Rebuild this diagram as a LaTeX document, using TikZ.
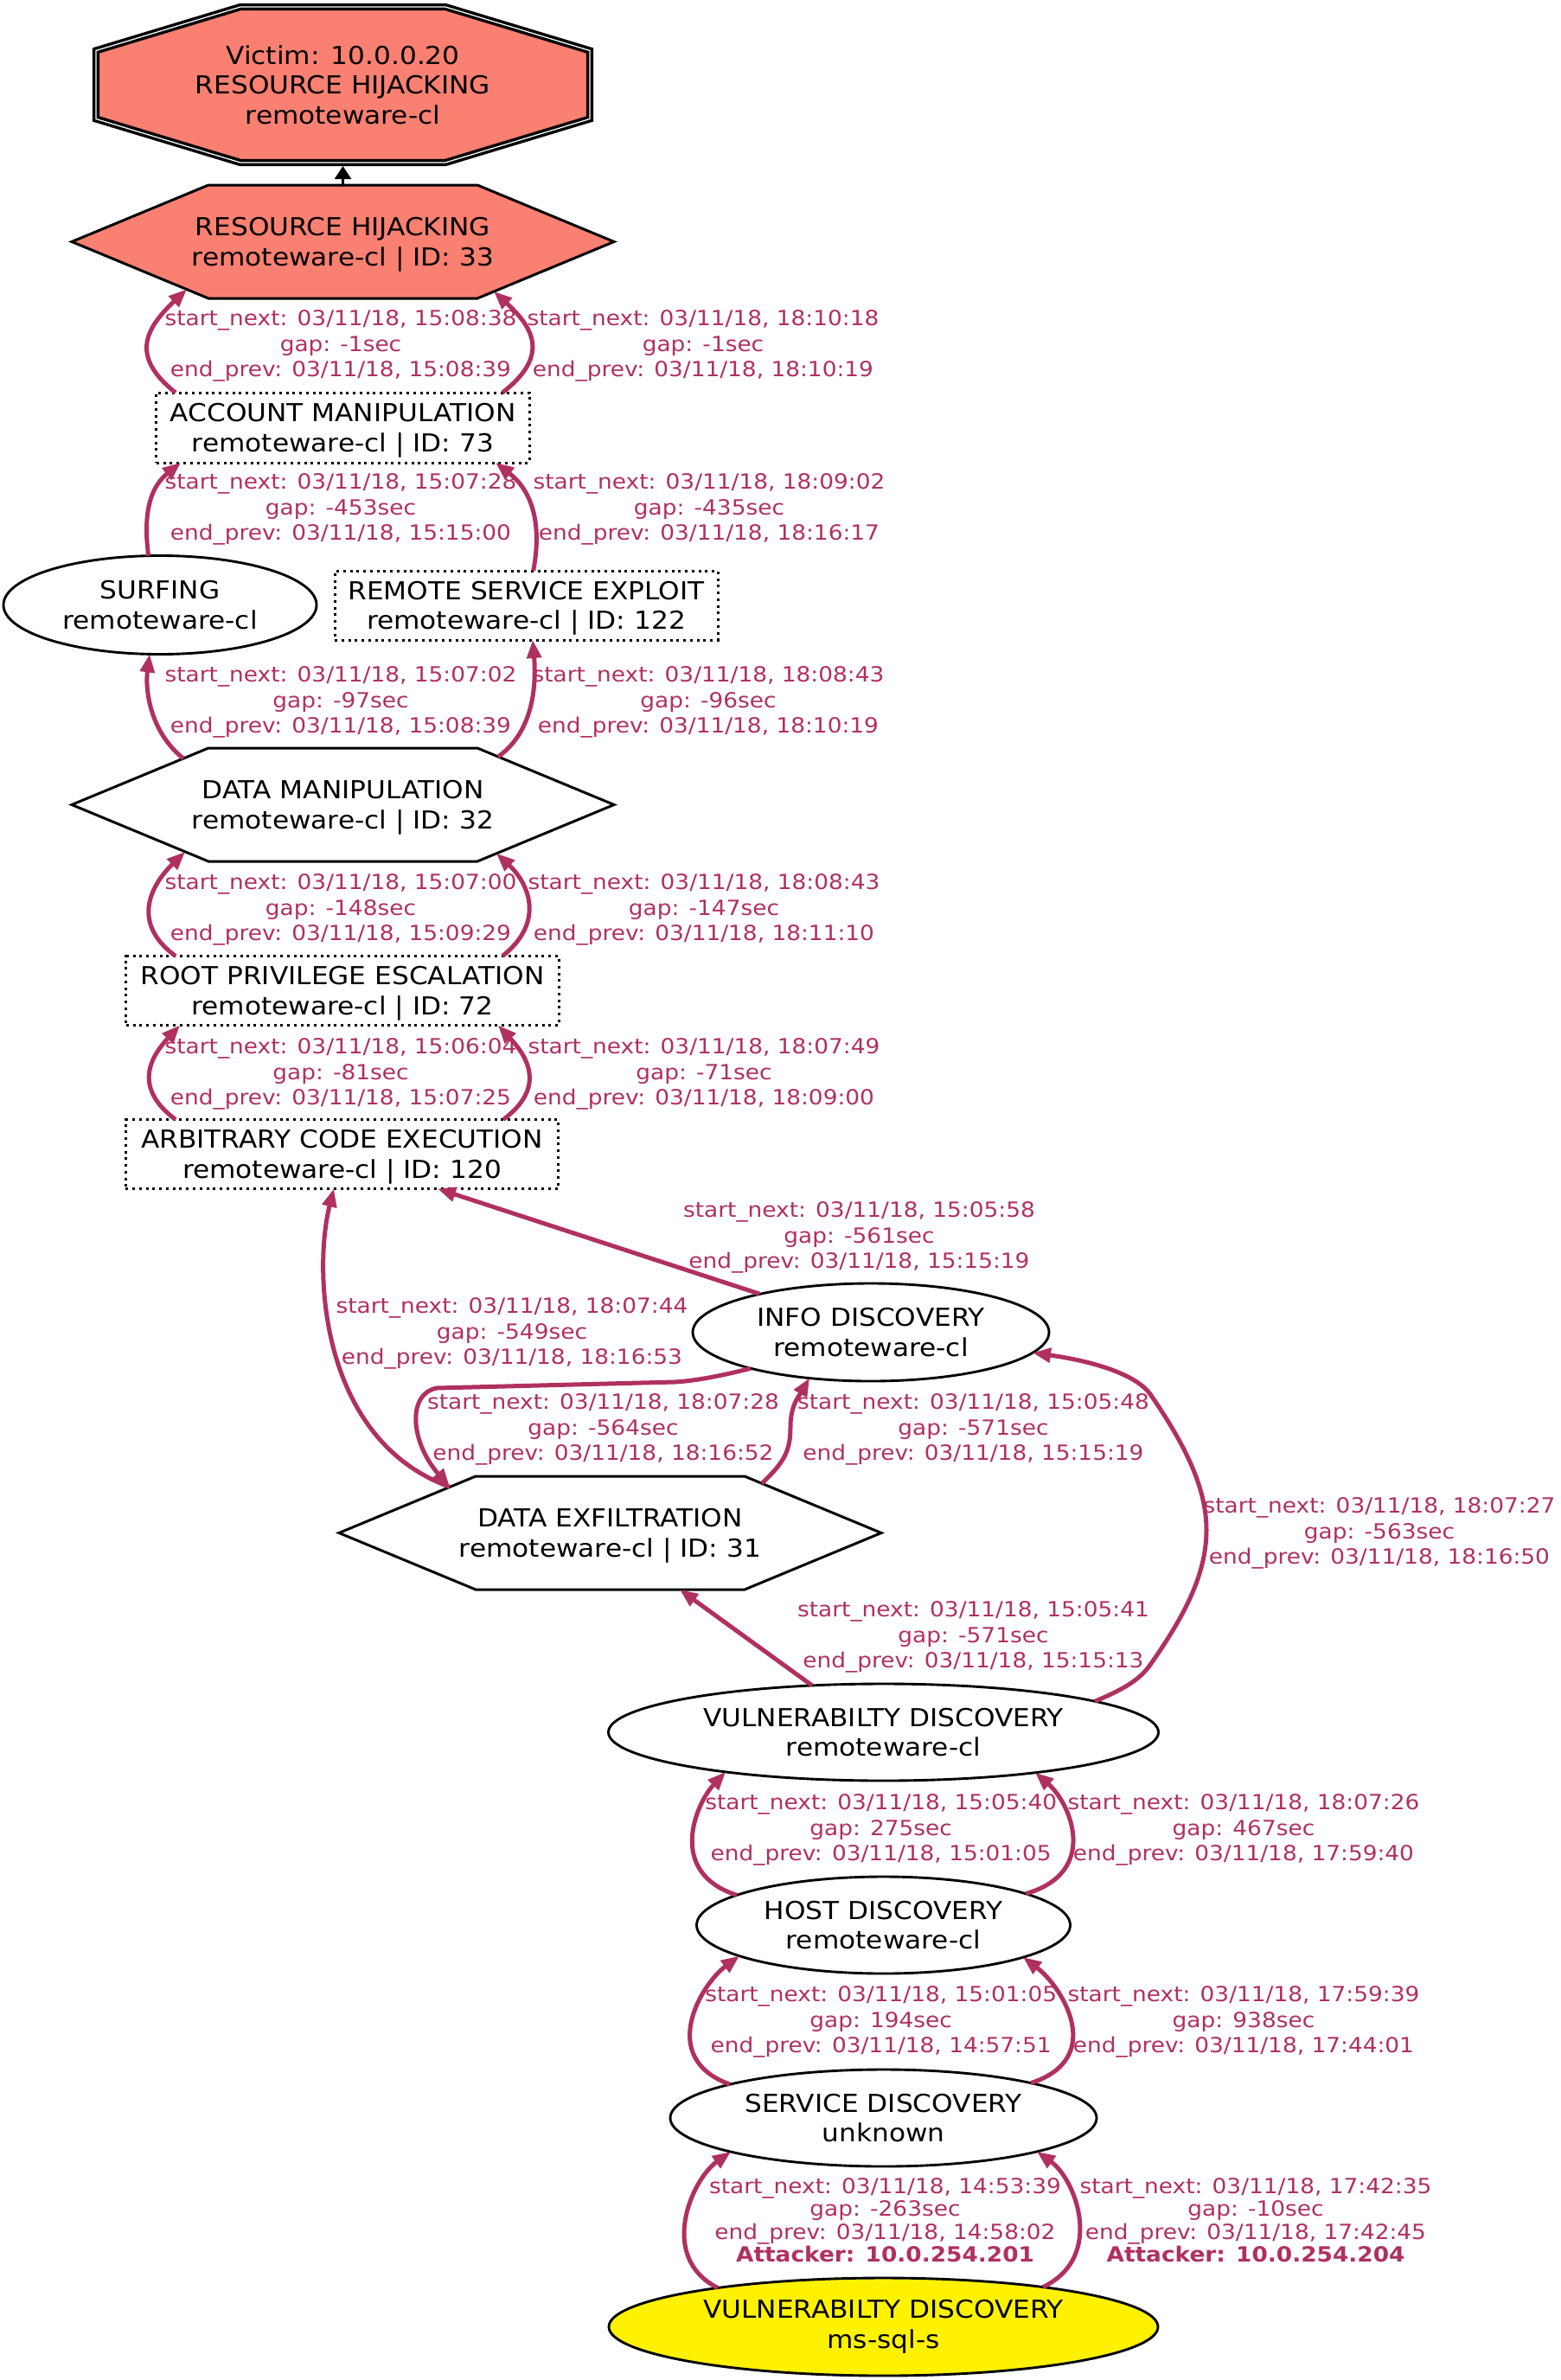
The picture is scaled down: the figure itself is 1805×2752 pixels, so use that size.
\documentclass[tikz,border=0pt]{standalone}
\usepackage{fontspec}
\setmainfont{DejaVu Sans}[FakeStretch=1.09]
\usetikzlibrary{arrows.meta,calc,shapes.geometric,backgrounds}
\definecolor{edgecol}{HTML}{B03060}
\definecolor{salmonfill}{HTML}{FA8072}
\begin{document}
\begin{tikzpicture}[x=0.4pt,y=-0.4pt,
  nodetext/.style={font=\fontsize{11.45pt}{13.75pt}\selectfont, align=center, inner sep=0pt},
  ellnode/.style={nodetext, ellipse, draw, line width=1.15pt},
  boxnode/.style={nodetext, rectangle, draw, line width=1.2pt, dash pattern=on 1.2pt off 1.9pt},
  polynode/.style={nodetext, rectangle},
  polyline/.style={draw, line width=1.2pt, line join=miter},
  flow/.style={draw=edgecol, line width=2pt, -{Triangle[length=8.4pt,width=6.6pt]}},
  lbl/.style={text=edgecol, font=\fontsize{9.68pt}{11.7pt}\selectfont, align=center, inner sep=0pt},
  lblfour/.style={text=edgecol, font=\fontsize{9.68pt}{10.56pt}\selectfont, align=center, inner sep=0pt},
]
\path[use as bounding box] (0,0) rectangle (1805,2752);

% ---------- nodes ----------
\node[polynode, minimum width=230.4pt, minimum height=75.2pt] (vic) at (396.5,98)
  {Victim: 10.0.0.20\\RESOURCE HIJACKING\\remoteware-cl};
\node[polynode, minimum width=250.8pt, minimum height=52.4pt] (rh) at (396.5,279.5)
  {RESOURCE HIJACKING\\remoteware-cl \smash{|} ID: 33};
\node[boxnode, minimum width=172.4pt, minimum height=32.4pt] (am) at (396.5,494.5)
  {ACCOUNT MANIPULATION\\remoteware-cl \smash{|} ID: 73};
\node[ellnode, minimum width=144.8pt, minimum height=45.6pt] (surf) at (185,699.5)
  {SURFING\\remoteware-cl};
\node[boxnode, minimum width=177.2pt, minimum height=32pt] (rse) at (608.5,700)
  {REMOTE SERVICE EXPLOIT\\remoteware-cl \smash{|} ID: 122};
\node[polynode, minimum width=250.8pt, minimum height=52.4pt] (dm) at (396.5,930.5)
  {DATA MANIPULATION\\remoteware-cl \smash{|} ID: 32};
\node[boxnode, minimum width=200pt, minimum height=32pt] (rpe) at (396,1145.5)
  {ROOT PRIVILEGE ESCALATION\\remoteware-cl \smash{|} ID: 72};
\node[boxnode, minimum width=200pt, minimum height=32pt] (ace) at (395.5,1334.5)
  {ARBITRARY CODE EXECUTION\\remoteware-cl \smash{|} ID: 120};
\node[ellnode, minimum width=164.8pt, minimum height=45.2pt] (info) at (1007,1540.5)
  {INFO DISCOVERY\\remoteware-cl};
\node[polynode, minimum width=250.8pt, minimum height=52.4pt] (de) at (705.5,1772.5)
  {DATA EXFILTRATION\\remoteware-cl \smash{|} ID: 31};
\node[ellnode, minimum width=254.4pt, minimum height=44.8pt] (vd) at (1021.5,2003)
  {VULNERABILTY DISCOVERY\\remoteware-cl};
\node[ellnode, minimum width=172.8pt, minimum height=44.8pt] (hd) at (1021.5,2226)
  {HOST DISCOVERY\\remoteware-cl};
\node[ellnode, minimum width=197.2pt, minimum height=44.8pt] (sd) at (1021.5,2449)
  {SERVICE DISCOVERY\\unknown};
\node[ellnode, fill=yellow, minimum width=254pt, minimum height=45.2pt] (vdms) at (1021.5,2690.5)
  {VULNERABILTY DISCOVERY\\ms-sql-s};

% ---------- polygon outlines behind the text ----------
\begin{scope}[on background layer]
  \fill[white] (0,0) rectangle (1805,2752);
  % victim: double outline, white gap between the two lines
  \draw[line width=1.4pt, double=white, double distance=0.5pt, fill=salmonfill,
        line join=miter, shift={(vic.center)}]
    (-118.5,-90) -- (118.5,-90) -- (285.5,-39.5) -- (285.5,39.5) -- (118.5,90)
    -- (-118.5,90) -- (-285.5,39.5) -- (-285.5,-39.5) -- cycle;
  \draw[polyline, fill=salmonfill, shift={(rh.center)}]
    (-313.5,0) -- (-155.5,-65.5) -- (155.5,-65.5) -- (313.5,0) -- (155.5,65.5) -- (-155.5,65.5) -- cycle;
  \draw[polyline, shift={(dm.center)}]
    (-313.5,0) -- (-155.5,-65.5) -- (155.5,-65.5) -- (313.5,0) -- (155.5,65.5) -- (-155.5,65.5) -- cycle;
  \draw[polyline, shift={(de.center)}]
    (-313.5,0) -- (-155.5,-65.5) -- (155.5,-65.5) -- (313.5,0) -- (155.5,65.5) -- (-155.5,65.5) -- cycle;
\end{scope}

% ---------- connectors ----------
\draw[line width=1.3pt, -{Triangle[length=6pt,width=7.5pt]}] ($(rh)+(0,-65.5)$) -- ($(vic)+(0,94)$);

\draw[flow] ($(am)+(-193.5,-40.5)$) .. controls (150,412) and (168,380) .. ($(rh)+(-180.5,55)$);
\draw[flow] ($(am)+(184.5,-40.5)$) .. controls (635,412) and (618,380) .. ($(rh)+(174.5,57.5)$);
\draw[flow] ($(surf)+(-13.3,-56.8)$) .. controls (164,585) and (178,560) .. ($(am)+(-187.5,40.5)$);
\draw[flow] ($(rse)+(8.2,-40)$) .. controls (628,600) and (612,565) .. ($(am)+(176.5,40.5)$);
\draw[flow] ($(dm)+(-184.5,-53.5)$) .. controls (172,845) and (168,795) .. ($(surf)+(-12,56.9)$);
\draw[flow] ($(dm)+(179.5,-55.5)$) .. controls (618,845) and (620,790) .. ($(rse)+(7.5,40)$);
\draw[flow] ($(rpe)+(-193,-40)$) .. controls (148,1065) and (178,1020) .. ($(dm)+(-182.5,54.5)$);
\draw[flow] ($(rpe)+(185,-40)$) .. controls (632,1065) and (610,1020) .. ($(dm)+(177.5,56.3)$);
\draw[flow] ($(ace)+(-192.5,-40)$) .. controls (150,1255) and (178,1218) .. ($(rpe)+(-188,40)$);
\draw[flow] ($(ace)+(186.5,-40)$) .. controls (635,1255) and (606,1218) .. ($(rpe)+(180,40)$);
\draw[flow] ($(info)+(-129,-44.5)$) -- ($(ace)+(110.5,40)$);
\draw[flow] ($(de)+(-185.5,-53.2)$) .. controls (370,1665) and (362,1470) .. ($(ace)+(-9.5,40)$);
\draw[flow] ($(info)+(-139,41.7)$) .. controls (830,1592) and (800,1597) .. (780,1598)
  -- (505,1605) .. controls (470,1612) and (475,1668) .. ($(de)+(-185.5,-53.2)$);
\draw[flow] ($(de)+(175.5,-57.2)$) .. controls (905,1692) and (914,1680) .. (914,1650)
  .. controls (914,1625) and (924,1614) .. ($(info)+(-71,53)$);
\draw[flow] ($(vd)+(244.5,-35.8)$) .. controls (1300,1953) and (1318,1942) .. (1330,1925)
  .. controls (1370,1868) and (1395,1820) .. (1395,1769)
  .. controls (1395,1720) and (1370,1670) .. (1330,1612)
  .. controls (1310,1585) and (1250,1572) .. ($(info)+(187,23.7)$);
\draw[flow] ($(vd)+(-82.5,-54.1)$) -- ($(de)+(80.5,65.5)$);
\draw[flow] ($(hd)+(-169.5,-34.7)$) .. controls (770,2165) and (805,2085) .. ($(vd)+(-182.5,45.9)$);
\draw[flow] ($(hd)+(164.5,-36.3)$) .. controls (1272,2165) and (1238,2085) .. ($(vd)+(175.5,46.7)$);
\draw[flow] ($(sd)+(-177.5,-38.9)$) .. controls (760,2380) and (810,2295) .. ($(hd)+(-166.5,35.6)$);
\draw[flow] ($(sd)+(170.5,-40.4)$) .. controls (1280,2380) and (1228,2297) .. ($(hd)+(161.5,37.1)$);
\draw[flow] ($(vdms)+(-191.5,-45)$) .. controls (760,2610) and (800,2520) .. ($(sd)+(-176.5,39.1)$);
\draw[flow] ($(vdms)+(184.5,-46)$) .. controls (1278,2610) and (1244,2520) .. ($(sd)+(177.5,38.9)$);

% ---------- connector labels ----------
\node[lbl] (l1) at (394,400) {start\_next: 03/11/18, 15:08:38\\gap: -1sec\\end\_prev: 03/11/18, 15:08:39};
\node[lbl] (l2) at (813,400) {start\_next: 03/11/18, 18:10:18\\gap: -1sec\\end\_prev: 03/11/18, 18:10:19};
\node[lbl] (l3) at (394,589) {start\_next: 03/11/18, 15:07:28\\gap: -453sec\\end\_prev: 03/11/18, 15:15:00};
\node[lbl] (l4) at (820,589) {start\_next: 03/11/18, 18:09:02\\gap: -435sec\\end\_prev: 03/11/18, 18:16:17};
\node[lbl] (l5) at (394,812) {start\_next: 03/11/18, 15:07:02\\gap: -97sec\\end\_prev: 03/11/18, 15:08:39};
\node[lbl] (l6) at (819,812) {start\_next: 03/11/18, 18:08:43\\gap: -96sec\\end\_prev: 03/11/18, 18:10:19};
\node[lbl] (l7) at (394,1052) {start\_next: 03/11/18, 15:07:00\\gap: -148sec\\end\_prev: 03/11/18, 15:09:29};
\node[lbl] (l8) at (814,1052) {start\_next: 03/11/18, 18:08:43\\gap: -147sec\\end\_prev: 03/11/18, 18:11:10};
\node[lbl] (l9) at (394,1242) {start\_next: 03/11/18, 15:06:04\\gap: -81sec\\end\_prev: 03/11/18, 15:07:25};
\node[lbl] (l10) at (814,1242) {start\_next: 03/11/18, 18:07:49\\gap: -71sec\\end\_prev: 03/11/18, 18:09:00};
\node[lbl] (l11) at (993.5,1431) {start\_next: 03/11/18, 15:05:58\\gap: -561sec\\end\_prev: 03/11/18, 15:15:19};
\node[lbl] (l12) at (592,1542) {start\_next: 03/11/18, 18:07:44\\gap: -549sec\\end\_prev: 03/11/18, 18:16:53};
\node[lbl] (l13) at (697.5,1653) {start\_next: 03/11/18, 18:07:28\\gap: -564sec\\end\_prev: 03/11/18, 18:16:52};
\node[lbl] (l14) at (1125.5,1653) {start\_next: 03/11/18, 15:05:48\\gap: -571sec\\end\_prev: 03/11/18, 15:15:19};
\node[lbl] (l15) at (1595,1773) {start\_next: 03/11/18, 18:07:27\\gap: -563sec\\end\_prev: 03/11/18, 18:16:50};
\node[lbl] (l16) at (1125.5,1893) {start\_next: 03/11/18, 15:05:41\\gap: -571sec\\end\_prev: 03/11/18, 15:15:13};
\node[lbl] (l17) at (1018.7,2116) {start\_next: 03/11/18, 15:05:40\\gap: 275sec\\end\_prev: 03/11/18, 15:01:05};
\node[lbl] (l18) at (1438,2116) {start\_next: 03/11/18, 18:07:26\\gap: 467sec\\end\_prev: 03/11/18, 17:59:40};
\node[lbl] (l19) at (1018.7,2338) {start\_next: 03/11/18, 15:01:05\\gap: 194sec\\end\_prev: 03/11/18, 14:57:51};
\node[lbl] (l20) at (1438,2338) {start\_next: 03/11/18, 17:59:39\\gap: 938sec\\end\_prev: 03/11/18, 17:44:01};
\node[lblfour] (l21) at (1023.5,2567) {start\_next: 03/11/18, 14:53:39\\gap: -263sec\\end\_prev: 03/11/18, 14:58:02\\\textbf{Attacker: 10.0.254.201}};
\node[lblfour] (l22) at (1452,2567) {start\_next: 03/11/18, 17:42:35\\gap: -10sec\\end\_prev: 03/11/18, 17:42:45\\\textbf{Attacker: 10.0.254.204}};
\end{tikzpicture}
\end{document}
